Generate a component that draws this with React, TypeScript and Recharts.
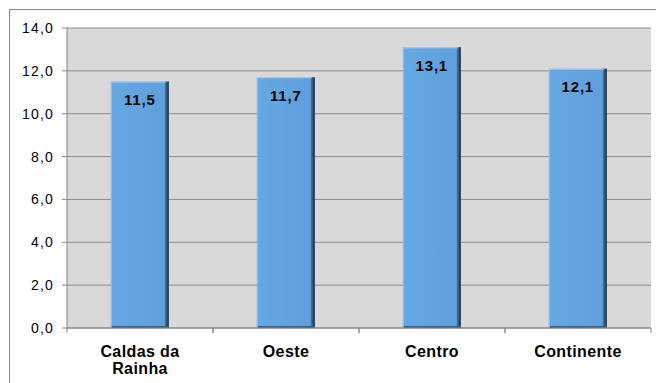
import React from 'react';
import { BarChart, Bar, XAxis, YAxis, CartesianGrid, LabelList, Text } from 'recharts';

const categories = ['Caldas da Rainha', 'Oeste', 'Centro', 'Continente'];
const values = [11.5, 11.7, 13.1, 12.1];
const yTicks = [0, 2, 4, 6, 8, 10, 12, 14];

const data = categories.map((name, i) => ({ name, value: values[i] }));

const fmt = (v: number) => v.toFixed(1).replace('.', ',');
const FONT = 'Liberation Sans, Arial, sans-serif';

const BarShape = (props: any) => {
  const { x, y, width, height } = props;
  if (!height || height <= 0) return null;
  return (
    <g>
      <rect x={x} y={y} width={width} height={height} fill="url(#barFill)" />
      <rect x={x + width - 4} y={y} width={4} height={height} fill="url(#barShadow)" />
      <rect x={x} y={y + height - 2} width={width} height={2} fill="#3c5f80" />
      <line x1={x + 0.5} y1={y} x2={x + 0.5} y2={y + height} stroke="#9cc3e8" strokeWidth={1} />
      <line x1={x} y1={y + 0.5} x2={x + width - 3} y2={y + 0.5} stroke="#a9cdee" strokeWidth={1} />
    </g>
  );
};

const CatTick = (props: any) => {
  const { x, y, payload } = props;
  const half = payload && payload.offset ? payload.offset : 0;
  return (
    <g>
      <line x1={x - half} y1={y} x2={x - half} y2={y + 5} stroke="#868686" />
      <line x1={x + half} y1={y} x2={x + half} y2={y + 5} stroke="#868686" />
      <Text
        x={x}
        y={y + 18}
        width={100}
        textAnchor="middle"
        verticalAnchor="start"
        lineHeight={17}
        style={{ fontFamily: FONT, fontWeight: 'bold', fontSize: 16, fill: '#000', letterSpacing: 0.4 }}
      >
        {payload.value}
      </Text>
    </g>
  );
};

const YTick = (props: any) => {
  const { x, y, payload } = props;
  return (
    <text
      x={x}
      y={y}
      dy={5}
      textAnchor="end"
      style={{ fontFamily: FONT, fontSize: 14, fill: '#000', letterSpacing: 1.2 }}
    >
      {fmt(payload.value)}
    </text>
  );
};

export default function App() {
  return (
    <div style={{ width: 660, height: 380, borderLeft: '1px solid #8a8a8a', borderTop: '1px solid #8a8a8a', marginLeft: 1, marginTop: 1, boxSizing: 'border-box', position: 'relative' }}>
      <BarChart
        width={655}
        height={374}
        data={data}
        margin={{ top: 18, right: 14, left: 0, bottom: 0 }}
        barCategoryGap="30%"
      >
        <defs>
          <linearGradient id="barFill" x1="0" y1="0" x2="1" y2="0">
            <stop offset="0%" stopColor="#66a8e4" />
            <stop offset="100%" stopColor="#5e9fdb" />
          </linearGradient>
          <linearGradient id="barShadow" x1="0" y1="0" x2="1" y2="0">
            <stop offset="0%" stopColor="#4a7aa6" />
            <stop offset="100%" stopColor="#1e2d3c" />
          </linearGradient>
        </defs>
        <CartesianGrid vertical={false} stroke="#8c8c8c" fill="#d9d9d9" strokeWidth={1} />
        <XAxis
          dataKey="name"
          height={56}
          stroke="#868686"
          tickLine={false}
          tickSize={0}
          tickMargin={0}
          interval={0}
          tick={<CatTick />}
        />
        <YAxis
          width={57}
          domain={[0, 14]}
          ticks={yTicks}
          tickSize={5}
          tickMargin={8}
          stroke="#868686"
          tick={<YTick />}
          interval={0}
        />
        <Bar dataKey="value" shape={<BarShape />} isAnimationActive={false}>
          <LabelList
            dataKey="value"
            position="insideTop"
            offset={13}
            formatter={(v: any) => fmt(Number(v))}
            style={{ fill: '#000', fontWeight: 'bold', fontSize: 15, fontFamily: FONT, letterSpacing: 0.8 }}
          />
        </Bar>
      </BarChart>
    </div>
  );
}
